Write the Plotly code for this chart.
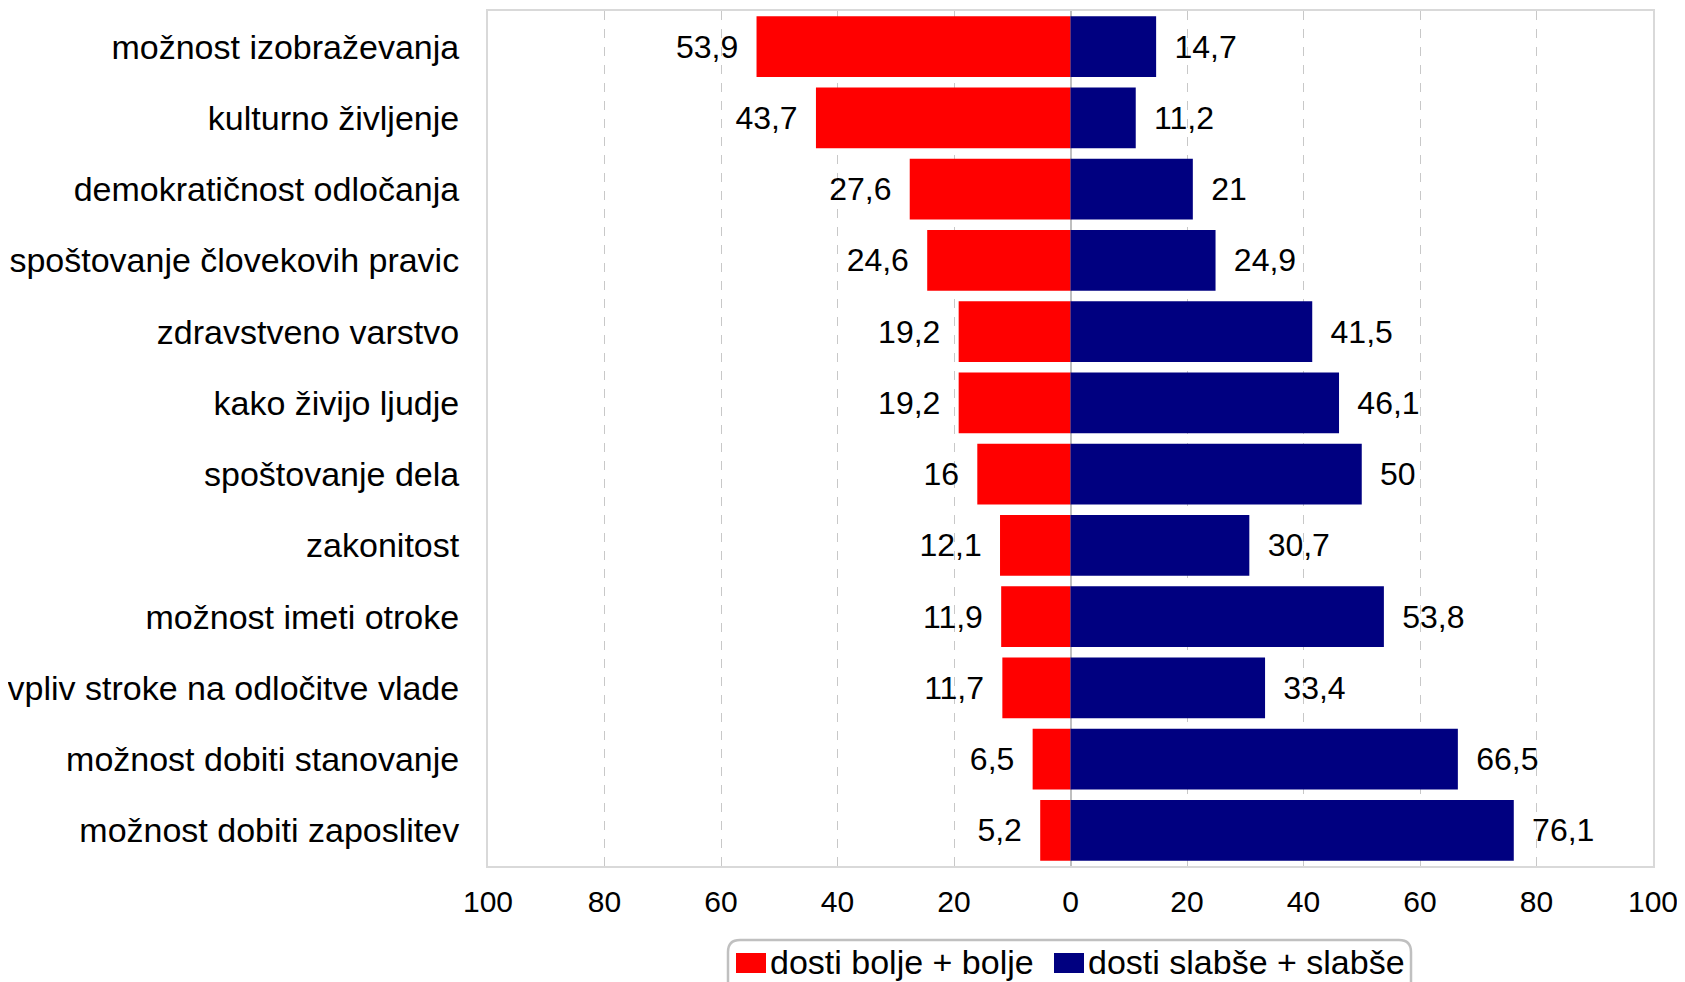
import plotly.graph_objects as go

categories = [
    'možnost izobraževanja', 'kulturno življenje', 'demokratičnost odločanja',
    'spoštovanje človekovih pravic', 'zdravstveno varstvo', 'kako živijo ljudje',
    'spoštovanje dela', 'zakonitost', 'možnost imeti otroke',
    'vpliv stroke na odločitve vlade', 'možnost dobiti stanovanje',
    'možnost dobiti zaposlitev',
]
better = [53.9, 43.7, 27.6, 24.6, 19.2, 19.2, 16, 12.1, 11.9, 11.7, 6.5, 5.2]
worse = [14.7, 11.2, 21, 24.9, 41.5, 46.1, 50, 30.7, 53.8, 33.4, 66.5, 76.1]
tick_vals = [-100, -80, -60, -40, -20, 0, 20, 40, 60, 80, 100]
tick_text = ['100', '80', '60', '40', '20', '0', '20', '40', '60', '80', '100']
names = ['dosti bolje + bolje', 'dosti slabše + slabše']
colors = ['#ff0000', '#000080']


def fmt(v):
    return f'{v:g}'.replace('.', ',')


FONT = 'Liberation Sans, Arial, sans-serif'
PAD = ' \u2009'

# plot area in page pixels (page has an 8px body margin)
PL, PR, PT, PB = 488, 1653, 11, 866


def px(X):
    return (X - PL) / (PR - PL)


def py(Y):
    return (PB - Y) / (PB - PT)


fig = go.Figure()
fig.add_trace(go.Bar(
    y=categories, x=[-v for v in better], orientation='h',
    name=names[0], marker=dict(color=colors[0], line_width=0),
    text=[fmt(v) + PAD for v in better], textposition='outside',
    textfont=dict(size=32, color='black'), cliponaxis=False,
))
fig.add_trace(go.Bar(
    y=categories, x=worse, orientation='h',
    name=names[1], marker=dict(color=colors[1], line_width=0),
    text=[PAD + fmt(v) for v in worse], textposition='outside',
    textfont=dict(size=32, color='black'), cliponaxis=False,
))

# legend drawn by hand: rounded box, swatches and labels
r = 12
x0, x1, y0, y1 = 728, 1411, 940, 1010
box = (f'M {px(x0 + r)} {py(y0)} L {px(x1 - r)} {py(y0)} '
       f'Q {px(x1)} {py(y0)} {px(x1)} {py(y0 + r)} L {px(x1)} {py(y1)} '
       f'L {px(x0)} {py(y1)} L {px(x0)} {py(y0 + r)} '
       f'Q {px(x0)} {py(y0)} {px(x0 + r)} {py(y0)} Z')
shapes = [dict(type='path', path=box, xref='paper', yref='paper',
               line=dict(color='#c0c0c0', width=2.5), fillcolor='white',
               layer='below')]
annotations = []
for sx, n, c in zip([736, 1054], names, colors):
    shapes.append(dict(type='rect', xref='paper', yref='paper',
                       x0=px(sx), x1=px(sx + 30), y0=py(953), y1=py(973),
                       fillcolor=c, line_width=0))
    annotations.append(dict(x=px(sx + 32), y=py(962), xref='paper', yref='paper',
                            text=n, showarrow=False, xanchor='left',
                            yanchor='middle', font=dict(size=34)))

fig.update_layout(
    width=1677, height=974,
    barmode='relative', bargap=0.15,
    plot_bgcolor='white', paper_bgcolor='white',
    font=dict(family=FONT, size=30, color='black'),
    margin=dict(l=480, r=32, t=3, b=116, autoexpand=False),
    showlegend=False, shapes=shapes, annotations=annotations,
)
fig.update_xaxes(
    range=[-100, 100], tickvals=tick_vals, ticktext=tick_text,
    showgrid=True, gridcolor='#c8c8c8', griddash='dash', gridwidth=1,
    zeroline=True, zerolinecolor='#bfbfbf', zerolinewidth=2,
    showline=True, linecolor='#d9d9d9', linewidth=2, mirror=True,
    ticks='', ticklabelstandoff=8, tickfont=dict(size=30),
)
fig.update_yaxes(
    autorange='reversed', showline=True, linecolor='#d9d9d9', linewidth=2,
    mirror=True, ticks='', ticklabelstandoff=20, tickfont=dict(size=34),
    showgrid=False,
)

fig.write_html('out.html')
